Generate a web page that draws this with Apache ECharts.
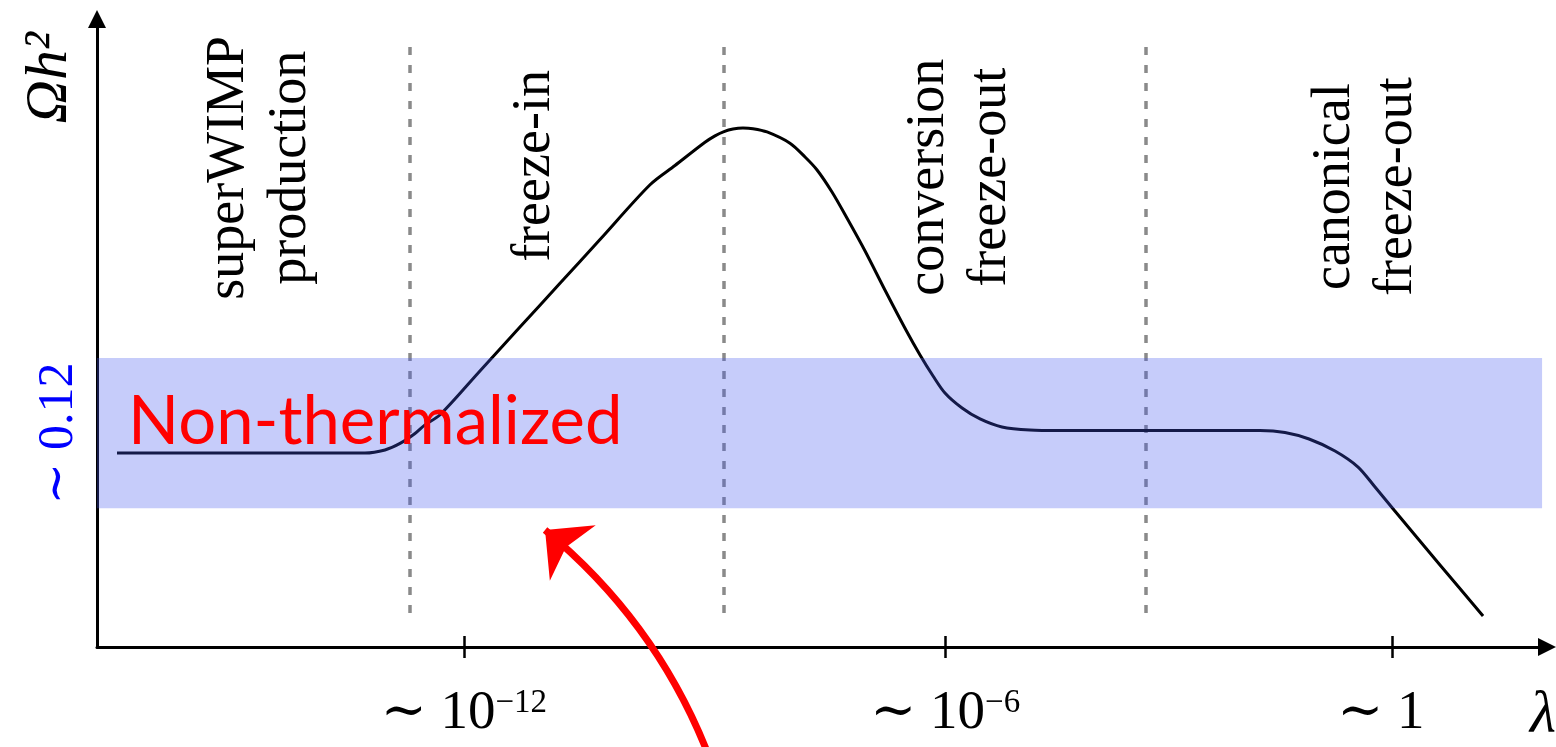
<!DOCTYPE html>
<html>
<head>
<meta charset="utf-8">
<script src="https://cdn.jsdelivr.net/npm/echarts@6/dist/echarts.min.js"></script>
<style>
  html, body { margin: 0; padding: 0; background: #ffffff; }
  #chart { width: 1556px; height: 747px; }
</style>
</head>
<body>
<div id="chart"></div>
<script>
// Relic abundance Ωh² against the coupling λ.
// Both axes are schematic: positions run over arbitrary units 0–100.

// ---- data ----
const curveX = [1.38, 18.48, 19.86, 20.90, 21.93, 22.62, 23.66, 26.41, 29.17, 31.93, 34.69, 38.14,
                39.86, 41.93, 42.62, 43.24, 43.86, 44.55, 45.24, 46.21, 47.79, 48.83, 49.66, 50.69,
                51.72, 52.97, 54.34, 55.79, 56.76, 57.66, 58.48, 59.66, 60.90, 62.41, 64.34, 66.41,
                80.21, 81.93, 83.59, 85.38, 86.97, 88.14, 89.45, 92.62, 95.59];
const curveY = [30.89, 30.89, 31.38, 32.42, 34.00, 35.37, 36.99, 43.96, 50.94, 57.91, 64.89, 73.61,
                76.67, 80.37, 81.39, 82.07, 82.48, 82.64, 82.53, 82.01, 80.22, 78.03, 75.96, 72.45,
                68.31, 63.06, 56.85, 50.48, 46.50, 43.15, 40.45, 38.06, 36.31, 35.03, 34.55, 34.47,
                34.47, 34.16, 33.12, 31.21, 28.66, 25.48, 21.82, 13.06, 4.94];

const tickValues = [25.3, 58.5, 89.3];
const tickBase = ['∼ 10', '∼ 10', '∼ 1'];
const tickExp = ['−12', '−6', ''];

const regionBounds = [21.6, 43.2, 72.3];
const regionNames = ['superWIMP\nproduction', 'freeze-in', 'conversion\nfreeze-out', 'canonical\nfreeze-out'];

const bandRange = [22.1, 46.0];      // observed relic density band
const bandValue = 34.0;
const bandText = '∼ 0.12';
const noteText = 'Non-thermalized';

// ---- layout (data units) ----
const regionLabelX = [11.2, 30.2, 59.5, 87.5];
const regionLabelY = [76.3, 76.6, 74.8, 73.3];
const boundSpan = [5.4, 95.7];
const bandSpanX = [-5.45, 99.66];
const notePos = [2.14, 35.7];
const arrowFrom = [43.07, -23.15];
const arrowTo = [30.9, 18.63];

const serif = "'Liberation Serif', 'DejaVu Serif', serif";
const sans = "Lato, 'Noto Sans', sans-serif";
const curve = curveX.map((x, i) => [x, curveY[i]]);

const chart = echarts.init(document.getElementById('chart'), null, { renderer: 'canvas' });

const baseX = {
  type: 'value', min: 0, max: 100, gridIndex: 0, position: 'bottom',
  splitLine: { show: false }
};

chart.setOption({
  animation: false,
  backgroundColor: '#ffffff',
  textStyle: { fontFamily: serif },
  grid: { left: 97, right: 9, top: 19, bottom: 100, containLabel: false, outerBoundsMode: 'none' },
  xAxis: [
    Object.assign({}, baseX, {
      name: 'λ',
      nameLocation: 'end',
      nameGap: 9,
      nameMoveOverlap: false,
      nameTextStyle: {
        fontFamily: serif, fontStyle: 'italic', fontSize: 60, color: '#000',
        align: 'right', verticalAlign: 'top', padding: [39, 0, 0, 0]
      },
      axisLine: {
        onZero: false, symbol: ['none', 'triangle'], symbolSize: [18, 18],
        lineStyle: { color: '#000', width: 3 }
      },
      axisTick: { show: true, customValues: tickValues, length: 11, lineStyle: { color: '#000', width: 2.5 } },
      axisLabel: {
        show: true, customValues: tickValues, margin: 39,
        formatter: function (v) {
          const i = tickValues.indexOf(v);
          if (i < 0) return '';
          return tickExp[i] ? '{m|' + tickBase[i] + '}{s|' + tickExp[i] + '}' : '{e|' + tickBase[i] + '}';
        },
        rich: {
          m: { fontFamily: serif, fontSize: 55, lineHeight: 55, color: '#000', verticalAlign: 'bottom' },
          s: { fontFamily: serif, fontSize: 33, lineHeight: 33, color: '#000', verticalAlign: 'bottom', padding: [0, 0, 21, 0] },
          e: { fontFamily: serif, fontSize: 55, lineHeight: 55, color: '#000', verticalAlign: 'bottom', padding: [0, 22, 0, 0] }
        }
      }
    }),
    Object.assign({}, baseX, {
      axisLine: { show: false, onZero: false },
      axisTick: { show: true, inside: true, customValues: tickValues, length: 11, lineStyle: { color: '#000', width: 2.5 } },
      axisLabel: { show: false }
    })
  ],
  yAxis: {
    type: 'value', min: 0, max: 100,
    name: 'Ωh²',
    nameLocation: 'end',
    nameRotate: 90,
    nameGap: -13,
    nameMoveOverlap: false,
    nameTextStyle: {
      fontFamily: serif, fontStyle: 'italic', fontSize: 60, lineHeight: 60, color: '#000',
      align: 'right', verticalAlign: 'bottom', padding: [0, 0, 17, 0]
    },
    splitLine: { show: false },
    axisLine: {
      onZero: false, symbol: ['none', 'triangle'], symbolSize: [18, 18],
      lineStyle: { color: '#000', width: 3 }
    },
    axisTick: { show: false },
    axisLabel: {
      show: true, customValues: [bandValue], rotate: 90, margin: 13,
      formatter: function () { return bandText; },
      fontFamily: serif, fontSize: 50, color: '#0000ff'
    }
  },
  series: [
    {
      name: 'Ωh²',
      type: 'line',
      data: curve,
      smooth: 0.3,
      symbol: 'none',
      z: 2,
      lineStyle: { color: '#000', width: 3 },
      markLine: {
        silent: true, z: 1, symbol: 'none', label: { show: false },
        lineStyle: { color: '#8a8a8a', width: 3.5, type: [8, 10] },
        data: regionBounds.map(x => [{ coord: [x, boundSpan[0]] }, { coord: [x, boundSpan[1]] }])
      }
    },
    {
      name: 'band',
      type: 'line',
      data: [],
      z: 8,
      markArea: {
        silent: true, z: 8, label: { show: false },
        itemStyle: { color: 'rgba(65, 85, 238, 0.3)' },
        data: [[{ coord: [bandSpanX[0], bandRange[0]] }, { coord: [bandSpanX[1], bandRange[1]] }]]
      }
    },
    {
      name: 'regions',
      type: 'scatter',
      symbolSize: 0,
      z: 9,
      silent: true,
      itemStyle: { opacity: 1 },
      data: regionNames.map((n, i) => ({ name: n, value: [regionLabelX[i], regionLabelY[i]] })),
      label: {
        show: true, position: [0, 0], formatter: '{b}',
        rotate: 90, align: 'center', verticalAlign: 'middle',
        fontFamily: serif, fontSize: 54, lineHeight: 62, color: '#000000', opacity: 1
      }
    },
    {
      name: 'note',
      type: 'scatter',
      symbolSize: 0,
      z: 10,
      silent: true,
      itemStyle: { opacity: 1 },
      data: [{ name: noteText, value: notePos }],
      label: {
        show: true, position: [0, 0], formatter: '{b}',
        align: 'left', verticalAlign: 'middle',
        fontFamily: sans, fontSize: 67, color: '#ff0000', opacity: 1
      }
    },
    {
      name: 'pointer',
      type: 'lines',
      coordinateSystem: 'cartesian2d',
      clip: false,
      silent: true,
      z: 10,
      symbol: ['none', 'arrow'],
      symbolSize: [0, [54, 36]],
      lineStyle: { color: '#ff0000', width: 7, opacity: 1, curveness: -0.148 },
      data: [{ coords: [arrowFrom, arrowTo] }]
    }
  ]
});
</script>
</body>
</html>
